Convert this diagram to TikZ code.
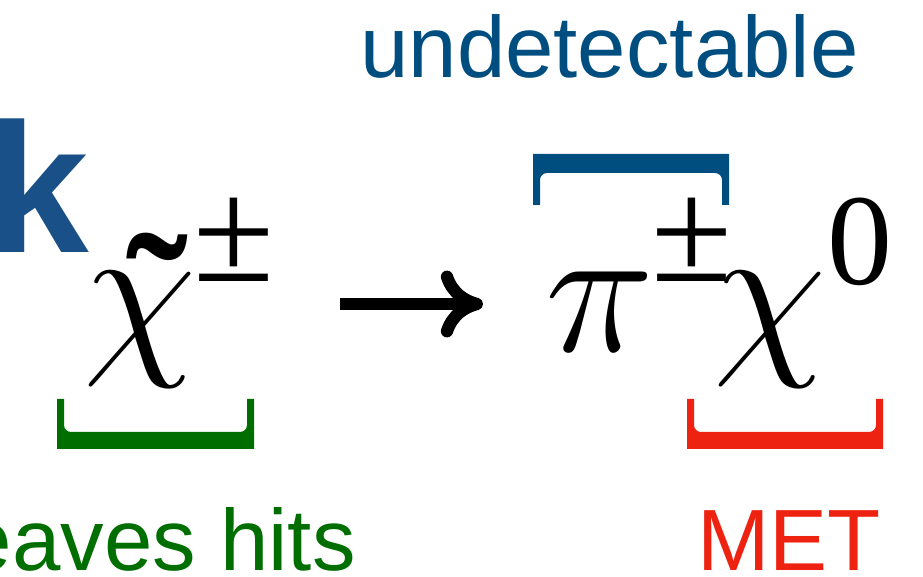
\RequirePackage{fix-cm}
\documentclass[tikz,border=0pt]{standalone}
\usepackage{fontspec}
\setmainfont{Liberation Serif}
\setsansfont{Liberation Sans}
\usetikzlibrary{arrows.meta}
\definecolor{detblue}{RGB}{0, 78, 128}
\definecolor{kblue}{RGB}{25, 80, 135}
\definecolor{hitgreen}{RGB}{0, 110, 0}
\definecolor{metred}{RGB}{238, 34, 17}

\begin{document}
\begin{tikzpicture}[
    tagtext/.style={font=\sffamily\fontsize{49.5}{50}\selectfont, inner sep=0pt, text depth=0pt},
    sym/.style={font=\fontsize{105}{106}\selectfont, inner sep=0pt, anchor=base west},
    supsym/.style={font=\fontsize{84}{86}\selectfont, inner sep=0pt, anchor=base west},
    decay/.style={-{To[length=24pt,width=38pt]}, line width=7pt}
  ]
                \useasboundingbox (0,0) rectangle (18.46,11.54);
                \clip (0,0) rectangle (18.46,11.54);

                % Labels
                \node[tagtext, text=detblue, anchor=base west] (undet) at (7.20,9.98) {undetectable};
                \node[tagtext, text=kblue, anchor=base east, font=\sffamily\bfseries\fontsize{105}{106}\selectfont] (trk) at (1.78,6.48) {k};
                \node[tagtext, text=hitgreen, anchor=base east] (hits) at (7.12,0.12) {eaves hits};
                \node[tagtext, text=metred, anchor=base west] (met) at (13.94,0.12) {MET};

                % Decay
                \node[sym] (chg) at (1.66,4.50) {$\chi$};
                \node[sym, font=\bfseries\fontsize{105}{106}\selectfont] (tld) at (2.52,4.30) {˜};
                \node[supsym] (chgpm) at (3.86,5.90) {±};
                \node[sym] (pion) at (10.90,4.50) {$\pi$};
                \node[supsym] (pionpm) at (13.02,5.90) {±};
                \node[sym] (ntr) at (14.26,4.50) {$\chi$};
                \node[supsym, font=\fontsize{74}{76}\selectfont] (ntrzero) at (16.54,5.84) {0};

                \coordinate (arrL) at (6.80,5.46);
                \coordinate (arrR) at (9.66,5.46);
                \draw[decay] (arrL) -- (arrR);

                % Green bracket (chargino)
                \fill[hitgreen] (1.14,3.56) -- (1.14,2.56) -- (5.08,2.56) -- (5.08,3.56) -- (4.94,3.56)
                    -- (4.94,3.04) arc[start angle=0, end angle=-90, radius=0.14]
                    -- (1.42,2.90) arc[start angle=270, end angle=180, radius=0.14]
                    -- (1.28,3.56) -- cycle;

                % Red bracket (neutralino)
                \fill[metred] (13.74,3.56) -- (13.74,2.56) -- (17.66,2.56) -- (17.66,3.56) -- (17.52,3.56)
                    -- (17.52,3.04) arc[start angle=0, end angle=-90, radius=0.14]
                    -- (14.02,2.90) arc[start angle=270, end angle=180, radius=0.14]
                    -- (13.88,3.56) -- cycle;

                % Blue bracket (pion)
                \fill[detblue] (10.66,7.44) -- (10.66,8.46) -- (14.58,8.46) -- (14.58,7.44) -- (14.44,7.44)
                    -- (14.44,7.94) arc[start angle=0, end angle=90, radius=0.14]
                    -- (10.94,8.08) arc[start angle=90, end angle=180, radius=0.14]
                    -- (10.80,7.44) -- cycle;
\end{tikzpicture}
\end{document}
